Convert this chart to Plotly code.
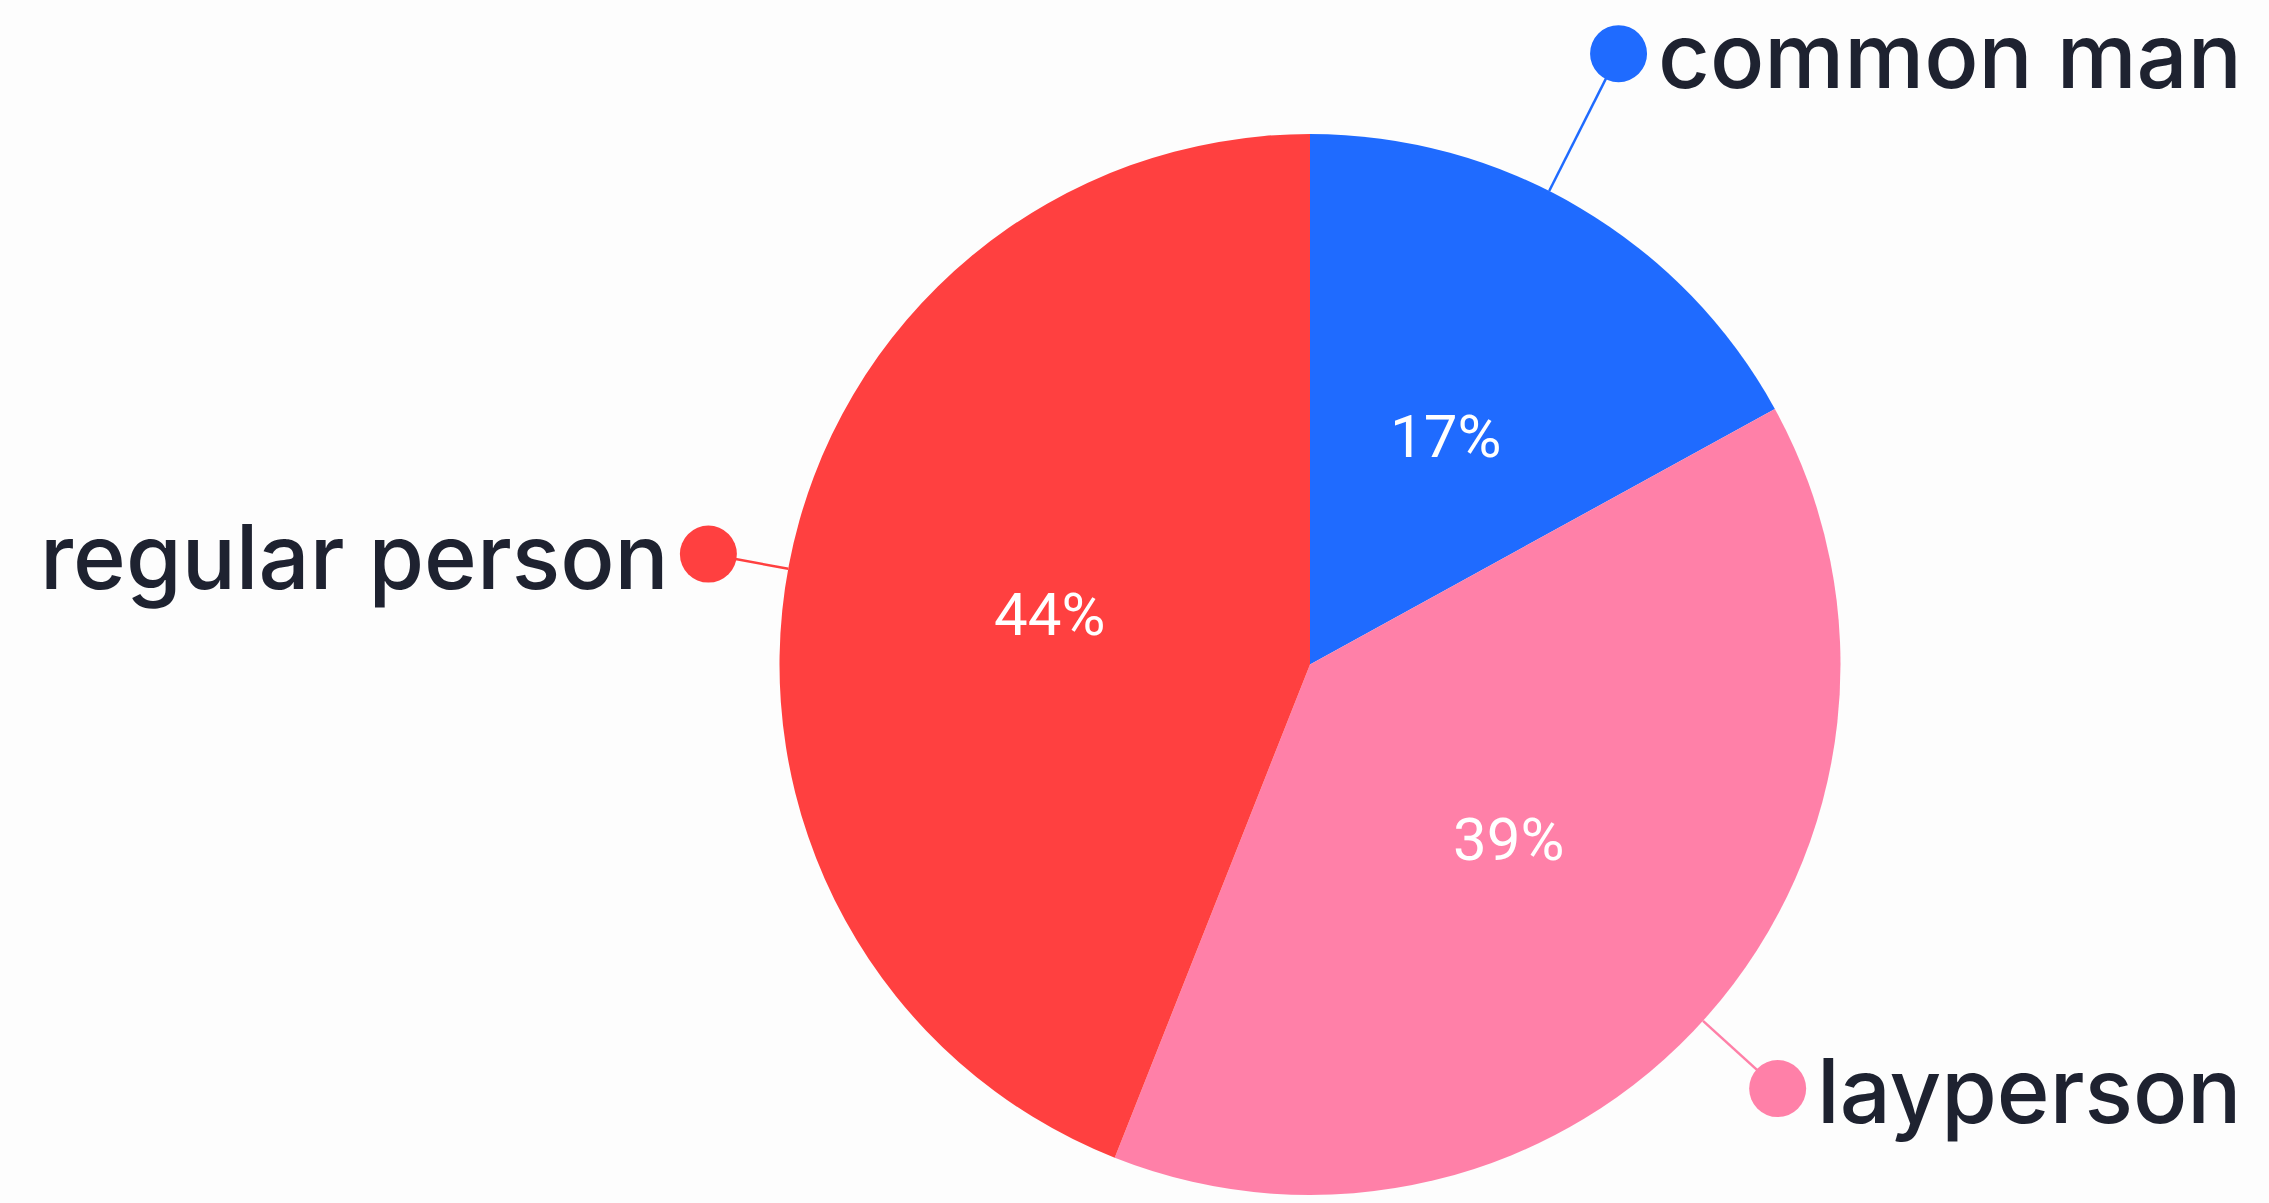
import math
import plotly.graph_objects as go

# ---- data ----
categories = ["common man", "layperson", "regular person"]
values = [17, 39, 44]
colors = ["#1F6BFF", "#FF80A8", "#FF4040"]

# ---- layout constants (pixels) ----
W, H = 2269, 1203
OFF = 0                               # page body margin removed via post_script
CX, CY, R = 1310, 664.5, 530.5
label_r = [1.29, 1.19, 1.153]      # dot distance as fraction of radius
label_shift = [-3.8, 0.8, -0.4]    # degrees added to slice mid-angle
label_side = ["left", "left", "right"]  # text anchor relative to the dot
DOT = 57
TEXT_COLOR = "#1E2230"


def px_to_paper(x, y):
    return (x - OFF) / W, 1 - (y - OFF) / H


fig = go.Figure()
d0x, d1y = px_to_paper(CX - R, CY - R)
d1x, d0y = px_to_paper(CX + R, CY + R)
fig.add_trace(go.Pie(
    labels=categories,
    values=values,
    marker=dict(colors=colors, line=dict(width=0)),
    sort=False,
    direction="clockwise",
    rotation=0,
    textinfo="none",
    hoverinfo="label+percent",
    showlegend=False,
    domain=dict(x=[d0x, d1x], y=[d0y, d1y]),
))

total = sum(values)
annotations = []
shapes = []
cum = 0
for i, (cat, v, col) in enumerate(zip(categories, values, colors)):
    mid = (cum + v / 2) / total * 360
    cum += v
    # percentage inside the slice
    a = math.radians(mid)
    px, py = CX + 0.5 * R * math.sin(a), CY - 0.5 * R * math.cos(a)
    x, y = px_to_paper(px, py)
    annotations.append(dict(
        x=x, y=y, xref="paper", yref="paper", showarrow=False,
        text=f"{round(100 * v / total)}%",
        font=dict(family="Roboto", size=60, color="white"),
        xanchor="center", yanchor="middle",
    ))
    # leader line + dot + label
    b = math.radians(mid + label_shift[i])
    ex, ey = CX + R * math.sin(b), CY - R * math.cos(b)
    dx, dy = CX + label_r[i] * R * math.sin(b), CY - label_r[i] * R * math.cos(b)
    x0, y0 = px_to_paper(ex, ey)
    x1, y1 = px_to_paper(dx, dy)
    shapes.append(dict(type="line", xref="paper", yref="paper",
                       x0=x0, y0=y0, x1=x1, y1=y1,
                       line=dict(color=col, width=2.5), layer="below"))
    cx0, cy0 = px_to_paper(dx - DOT / 2, dy + DOT / 2)
    cx1, cy1 = px_to_paper(dx + DOT / 2, dy - DOT / 2)
    shapes.append(dict(type="circle", xref="paper", yref="paper",
                       x0=cx0, y0=cy0, x1=cx1, y1=cy1,
                       fillcolor=col, line=dict(width=0)))
    gap = DOT / 2 + 10
    if label_side[i] == "left":
        tx, anchor = dx + gap, "left"
    else:
        tx, anchor = dx - gap, "right"
    lx, ly = px_to_paper(tx, dy)
    annotations.append(dict(
        x=lx, y=ly, xref="paper", yref="paper", showarrow=False,
        text=cat, xanchor=anchor, yanchor="middle", yshift=-2, borderpad=0,
        font=dict(family="Inter, Lato, sans-serif", size=90, weight=500, color=TEXT_COLOR),
    ))

fig.update_layout(
    width=W, height=H,
    margin=dict(l=0, r=0, t=0, b=0),
    paper_bgcolor="#FDFDFD",
    plot_bgcolor="#FDFDFD",
    annotations=annotations,
    shapes=shapes,
)

fig.write_html("out.html", config={"displayModeBar": False},
               post_script="document.body.style.margin='0';")
